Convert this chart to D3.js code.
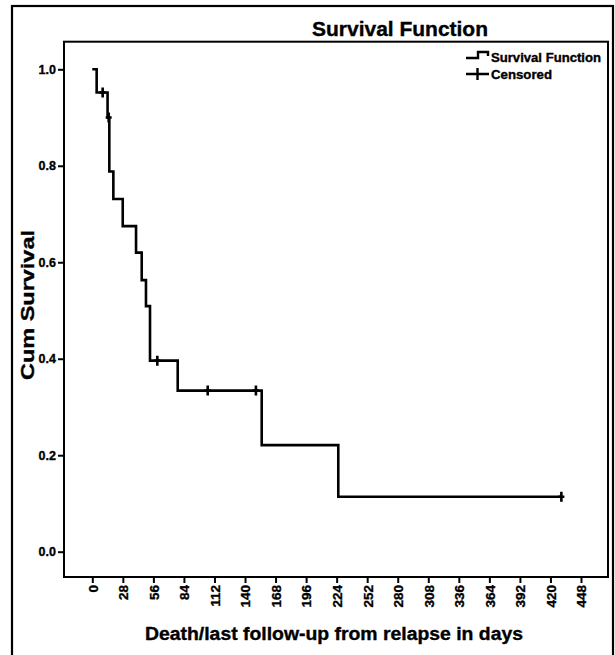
<!DOCTYPE html>
<html><head><meta charset="utf-8">
<script src="https://cdn.jsdelivr.net/npm/d3@7"></script>
<style>
body{margin:0;background:#fff}
svg{display:block}
text{font-family:"Liberation Sans",Arial,sans-serif;font-weight:bold;fill:#000;stroke:#000;stroke-width:0.35px}
</style>
</head><body>
<svg id="c" width="615" height="655"></svg>
<script>
// Kaplan-Meier steps
const stepTimes = [0, 4, 14, 15.6, 19.3, 27.9, 40.1, 45.3, 49.2, 52.9, 78.3, 155.3, 225.5];
const survival  = [1.0, 0.952, 0.900, 0.788, 0.731, 0.675, 0.620, 0.563, 0.509, 0.396, 0.334, 0.221, 0.114];
const lastTime = 430;
const censorTimes = [9.5, 15, 59.6, 105.8, 150, 430];
const censorSurv  = [0.952, 0.900, 0.396, 0.334, 0.334, 0.114];
const xTicks = [0, 28, 56, 84, 112, 140, 168, 196, 224, 252, 280, 308, 336, 364, 392, 420, 448];
const yTicks = [0.0, 0.2, 0.4, 0.6, 0.8, 1.0];
const titleText = "Survival Function";
const xTitle = "Death/last follow-up from relapse in days";
const yTitle = "Cum Survival";
const legendLabels = ["Survival Function", "Censored"];

const svg = d3.select("#c");
const P = {l: 64, t: 41.7, r: 608, b: 577};

const x = d3.scaleLinear().domain([0, 448]).range([92.3, 581]);
const y = d3.scaleLinear().domain([0, 1]).range([551.7, 69.3]);

// outer frame
svg.append("rect").attr("x", 12).attr("y", 6).attr("width", 601).attr("height", 660)
  .attr("fill", "#fff").attr("stroke", "#000").attr("stroke-width", 2.2);

// title
svg.append("text").attr("x", 312).attr("y", 36).attr("font-size", 20)
  .attr("textLength", 176).attr("lengthAdjust", "spacingAndGlyphs").text(titleText);

// plot box
svg.append("rect").attr("x", P.l).attr("y", P.t).attr("width", P.r - P.l).attr("height", P.b - P.t)
  .attr("fill", "none").attr("stroke", "#000").attr("stroke-width", 2);

// y axis
const ya = svg.append("g").attr("transform", `translate(${P.l},0)`)
  .call(d3.axisLeft(y).tickValues(yTicks).tickFormat(d3.format(".1f")).tickSize(6).tickPadding(2));
ya.select(".domain").remove();
ya.selectAll("line").attr("stroke", "#000").attr("stroke-width", 2);
ya.selectAll("text").attr("font-size", 12.5).style("font-family", "Liberation Sans, Arial, sans-serif").style("font-weight", "bold");

// x axis
const xa = svg.append("g").attr("transform", `translate(0,${P.b})`)
  .call(d3.axisBottom(x).tickValues(xTicks).tickFormat(d3.format("d")).tickSize(6));
xa.select(".domain").remove();
xa.selectAll("line").attr("stroke", "#000").attr("stroke-width", 2);
xa.selectAll("text").attr("font-size", 13.5).style("font-family", "Liberation Sans, Arial, sans-serif").style("font-weight", "bold")
  .attr("transform", "rotate(-90)").attr("x", -8).attr("y", 0).attr("dy", "0.36em").attr("text-anchor", "end");

// axis titles
svg.append("text").attr("x", 145).attr("y", 640).attr("font-size", 17.5)
  .attr("textLength", 378).attr("lengthAdjust", "spacingAndGlyphs").text(xTitle);
svg.append("text").attr("transform", "translate(34,305) rotate(-90)").attr("text-anchor", "middle")
  .attr("font-size", 18.5).attr("textLength", 150).attr("lengthAdjust", "spacingAndGlyphs").text(yTitle);

// survival curve
const pts = stepTimes.map((t, i) => [t, survival[i]]);
pts.push([lastTime, survival[survival.length - 1]]);
const line = d3.line().x(d => x(d[0])).y(d => y(d[1])).curve(d3.curveStepAfter);
svg.append("path").datum(pts).attr("d", line).attr("fill", "none")
  .attr("stroke", "#000").attr("stroke-width", 2.6).attr("stroke-linejoin", "miter");

// censored marks
svg.append("g").selectAll("path").data(censorTimes.map((t, i) => [t, censorSurv[i]])).join("path")
  .attr("d", d => `M${x(d[0])},${y(d[1]) - 5}V${y(d[1]) + 5}M${x(d[0]) - 3},${y(d[1])}H${x(d[0]) + 3}`)
  .attr("fill", "none").attr("stroke", "#000").attr("stroke-width", 2.6);

// legend
const lg = svg.append("g");
lg.append("path").attr("d", "M466,58 H478 V52 H488 V56").attr("fill", "none")
  .attr("stroke", "#000").attr("stroke-width", 2.4);
lg.append("path").attr("d", "M466,74 H489 M477.5,68 V80").attr("fill", "none")
  .attr("stroke", "#000").attr("stroke-width", 2.4);
lg.append("text").attr("x", 491).attr("y", 62).attr("font-size", 12.5)
  .attr("textLength", 110).attr("lengthAdjust", "spacingAndGlyphs").text(legendLabels[0]);
lg.append("text").attr("x", 491).attr("y", 79).attr("font-size", 12.5)
  .attr("textLength", 61).attr("lengthAdjust", "spacingAndGlyphs").text(legendLabels[1]);
</script>
</body></html>
